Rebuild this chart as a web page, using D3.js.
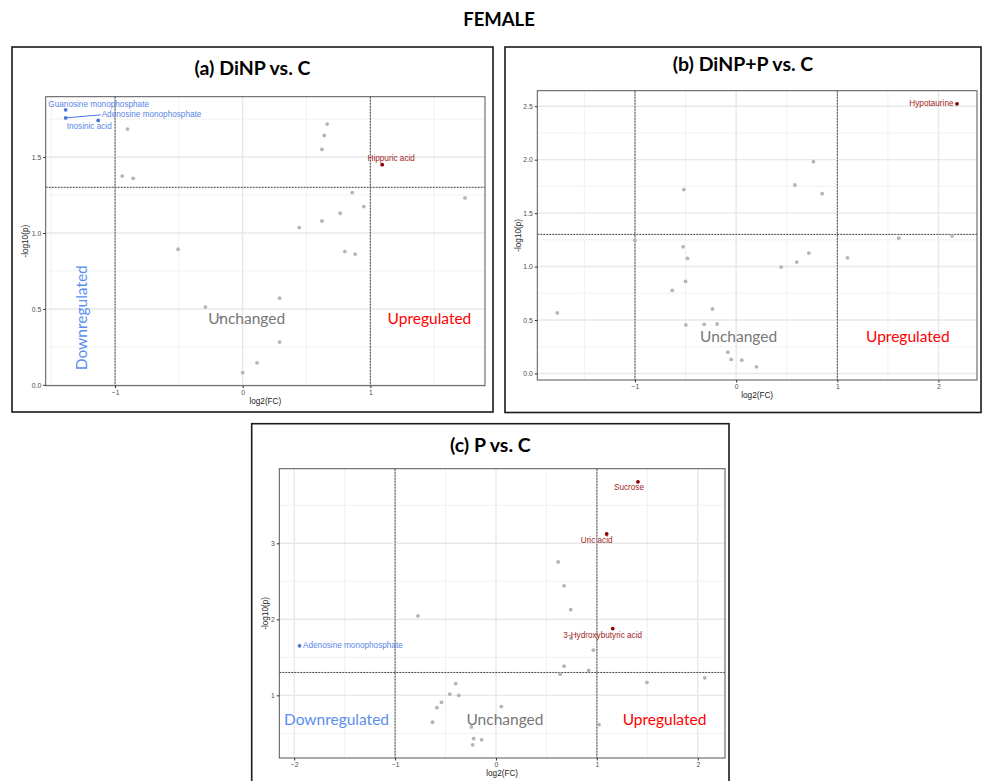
<!DOCTYPE html>
<html>
<head>
<meta charset="utf-8">
<script src="https://cdn.jsdelivr.net/npm/d3@7"></script>
<style>
  body { margin: 0; background: #fff; }
  svg { display: block; }
</style>
</head>
<body>
<svg id="chart" width="982" height="781"></svg>
<script>
// ---------- data: log2 fold change and -log10(p) per metabolite ----------
// (a) DiNP vs. C
const dinpFC    = [-1.387, -1.387, -1.132, 1.093, -0.902, -0.944, -0.858, -0.506, -0.292, -0.172, 0.289, 0.289, 0.112, 0.000, 0.443, 0.621, 0.764, 0.858, 0.949, 0.800, 0.881, 0.621, 0.639, 0.662, 1.742];
const dinpLogP  = [1.811, 1.758, 1.741, 1.450, 1.684, 1.375, 1.360, 0.893, 0.512, 0.444, 0.571, 0.282, 0.145, 0.081, 1.036, 1.079, 1.130, 1.266, 1.174, 0.878, 0.861, 1.550, 1.642, 1.717, 1.231];
const dinpNames = ["Guanosine monophosphate", "Adenosine monophosphate", "Inosinic acid", "Hippuric acid"];

// (b) DiNP+P vs. C
const dinpPFC    = [2.183, 0.764, 0.580, 0.850, -0.517, -1.001, -0.524, -0.481, -0.500, -0.632, -1.768, -0.234, -0.497, -0.316, -0.188, -0.082, -0.049, 0.056, 0.201, 0.445, 0.599, 0.718, 1.100, 1.607, 2.134];
const dinpPLogP  = [2.522, 1.981, 1.763, 1.682, 1.720, 1.247, 1.185, 1.076, 0.861, 0.777, 0.566, 0.603, 0.454, 0.460, 0.463, 0.199, 0.131, 0.124, 0.062, 0.995, 1.042, 1.126, 1.082, 1.266, 1.287];
const dinpPNames = ["Hypotaurine"];

// (c) P vs. C
const pFC    = [1.407, 1.097, 1.157, -1.947, 0.616, 0.675, 0.741, 0.745, 0.965, 0.675, 0.636, 0.919, 1.496, 2.069, 1.021, -0.774, -0.399, -0.458, -0.369, -0.540, -0.586, -0.629, 0.053, -0.244, -0.221, -0.142, -0.231];
const pLogP  = [3.808, 3.122, 1.878, 1.651, 2.755, 2.441, 2.127, 1.751, 1.594, 1.384, 1.279, 1.328, 1.170, 1.231, 0.616, 2.044, 1.153, 1.017, 1.000, 0.908, 0.838, 0.646, 0.852, 0.585, 0.432, 0.415, 0.349];
const pNames = ["Sucrose", "Uric acid", "3-Hydroxybutyric acid", "Adenosine monophosphate"];

// tick labels
const dinpXTicks  = [-1, 0, 1];
const dinpYTicks  = [0, 0.5, 1, 1.5];
const dinpPXTicks = [-1, 0, 1, 2];
const dinpPYTicks = [0, 0.5, 1, 1.5, 2, 2.5];
const pXTicks     = [-2, -1, 0, 1, 2];
const pYTicks     = [1, 2, 3];

// thresholds: |log2FC| = 1 and p = 0.05
const fcCut = 1;
const pCut = -Math.log10(0.05);

// ---------- styling ----------
const COL = {
  down: "#4677dc", downText: "#5a86e6",
  up: "#8b0000", upText: "#a11d1d",
  ns: "#b5b5b5",
  regionDown: "#5a8eef", regionNs: "#777777", regionUp: "#ff0000"
};
const titleFont = "Lato, 'Open Sans', sans-serif";
const plotFont = "'Liberation Sans', Arial, sans-serif";

const svg = d3.select("#chart");

svg.append("text")
  .attr("x", 499).attr("y", 19)
  .attr("text-anchor", "middle").attr("dominant-baseline", "central")
  .style("font-family", titleFont).style("font-weight", 700).style("font-size", "18.5px")
  .text("FEMALE");

// ---------- panel definitions ----------
const panels = [
  {
    title: "(a) DiNP vs. C", fc: dinpFC, logp: dinpLogP, names: dinpNames,
    xTicks: dinpXTicks, yTicks: dinpYTicks, yFmt: d3.format(".1f"),
    box: [12, 47, 493, 412], plot: [45.7, 96.7, 485, 385.7], titleY: 67.5,
    xLabY: 401, yLabX: 25.7,
    labelPos: {
      "Guanosine monophosphate": { dx: 33, dy: -5.7, anchor: "middle" },
      "Adenosine monophosphate": { dx: 36, dy: -3, anchor: "start", segment: true },
      "Inosinic acid": { dx: -9, dy: 6, anchor: "middle" },
      "Hippuric acid": { dx: 9, dy: -6, anchor: "middle" }
    },
    regions: [
      { text: "Downregulated", x: -1.263, y: 0.442, color: COL.regionDown, rotate: true },
      { text: "Unchanged", x: 0.031, y: 0.442, color: COL.regionNs },
      { text: "Upregulated", x: 1.463, y: 0.442, color: COL.regionUp }
    ]
  },
  {
    title: "(b) DiNP+P vs. C", fc: dinpPFC, logp: dinpPLogP, names: dinpPNames,
    xTicks: dinpPXTicks, yTicks: dinpPYTicks, yFmt: d3.format(".1f"),
    box: [505, 47, 981, 412.5], plot: [537.3, 90.7, 977, 380], titleY: 63.3,
    xLabY: 395, yLabX: 518.7,
    labelPos: {
      "Hypotaurine": { dx: -3.5, dy: 0, anchor: "end" }
    },
    regions: [
      { text: "Unchanged", x: 0.024, y: 0.348, color: COL.regionNs },
      { text: "Upregulated", x: 1.697, y: 0.348, color: COL.regionUp }
    ]
  },
  {
    title: "(c) P vs. C", fc: pFC, logp: pLogP, names: pNames,
    xTicks: pXTicks, yTicks: pYTicks, yFmt: d3.format("d"),
    box: [251.7, 423.7, 729, 800], plot: [279.3, 468.7, 725, 758], titleY: 444.5,
    xLabY: 773, yLabX: 265,
    labelPos: {
      "Sucrose": { dx: -9, dy: 6, anchor: "middle" },
      "Uric acid": { dx: -10, dy: 6, anchor: "middle" },
      "3-Hydroxybutyric acid": { dx: -10, dy: 6.5, anchor: "middle" },
      "Adenosine monophosphate": { dx: 3.5, dy: 0, anchor: "start" }
    },
    regions: [
      { text: "Downregulated", x: -1.581, y: 0.693, color: COL.regionDown },
      { text: "Unchanged", x: 0.089, y: 0.693, color: COL.regionNs },
      { text: "Upregulated", x: 1.670, y: 0.693, color: COL.regionUp }
    ]
  }
];

// domain padded by 5% of the data range on each side
function padded(values) {
  const [lo, hi] = d3.extent(values);
  const pad = (hi - lo) * 0.05;
  return [lo - pad, hi + pad];
}

// minor gridlines sit halfway between major breaks
function minorBreaks(major, domain) {
  const step = major[1] - major[0];
  const out = [];
  for (let v = major[0] - step / 2; v <= domain[1]; v += step) {
    if (v >= domain[0]) out.push(+v.toFixed(6));
  }
  return out;
}

function drawPanel(p) {
  const [bx0, by0, bx1, by1] = p.box;
  const [px0, py0, px1, py1] = p.plot;

  const g = svg.append("g");

  g.append("rect")
    .attr("x", bx0).attr("y", by0).attr("width", bx1 - bx0).attr("height", by1 - by0)
    .attr("fill", "#fff").attr("stroke", "#1a1a1a").attr("stroke-width", 1.6);

  g.append("text")
    .attr("x", (bx0 + bx1) / 2).attr("y", p.titleY)
    .attr("text-anchor", "middle").attr("dominant-baseline", "central")
    .style("font-family", titleFont).style("font-weight", 700).style("font-size", "19.5px")
    .text(p.title);

  const points = p.fc.map((fc, i) => ({
    fc, lp: p.logp[i], name: p.names[i] || null,
    cls: (p.logp[i] > pCut && fc > fcCut) ? "up" : (p.logp[i] > pCut && fc < -fcCut) ? "down" : "ns"
  }));

  const xDom = padded(p.fc), yDom = padded(p.logp);
  const x = d3.scaleLinear().domain(xDom).range([px0, px1]);
  const y = d3.scaleLinear().domain(yDom).range([py1, py0]);

  // grid
  const grid = g.append("g");
  grid.selectAll(".vminor").data(minorBreaks(p.xTicks, xDom)).join("line")
    .attr("x1", d => x(d)).attr("x2", d => x(d)).attr("y1", py0).attr("y2", py1)
    .attr("stroke", "#efefef").attr("stroke-width", 0.9);
  grid.selectAll(".hminor").data(minorBreaks(p.yTicks, yDom)).join("line")
    .attr("y1", d => y(d)).attr("y2", d => y(d)).attr("x1", px0).attr("x2", px1)
    .attr("stroke", "#efefef").attr("stroke-width", 0.9);
  grid.selectAll(".vmajor").data(p.xTicks).join("line")
    .attr("x1", d => x(d)).attr("x2", d => x(d)).attr("y1", py0).attr("y2", py1)
    .attr("stroke", "#e8e8e8").attr("stroke-width", 1.4);
  grid.selectAll(".hmajor").data(p.yTicks).join("line")
    .attr("y1", d => y(d)).attr("y2", d => y(d)).attr("x1", px0).attr("x2", px1)
    .attr("stroke", "#e8e8e8").attr("stroke-width", 1.4);

  // threshold lines
  const thr = g.append("g").attr("stroke", "#444").attr("stroke-width", 1).attr("stroke-dasharray", "2,1");
  [-fcCut, fcCut].forEach(v => {
    thr.append("line").attr("x1", x(v)).attr("x2", x(v)).attr("y1", py0).attr("y2", py1);
  });
  thr.append("line").attr("x1", px0).attr("x2", px1).attr("y1", y(pCut)).attr("y2", y(pCut));

  // points: unchanged first, then regulated
  const order = { ns: 0, down: 1, up: 2 };
  g.append("g").selectAll("circle")
    .data(points.slice().sort((a, b) => order[a.cls] - order[b.cls]))
    .join("circle")
    .attr("cx", d => x(d.fc)).attr("cy", d => y(d.lp)).attr("r", 1.9)
    .attr("fill", d => COL[d.cls]);

  // region annotations
  p.regions.forEach(r => {
    const t = g.append("text")
      .attr("text-anchor", "middle").attr("dominant-baseline", "central")
      .style("font-family", titleFont).style("font-size", "15.5px")
      .attr("fill", r.color).text(r.text);
    if (r.rotate) t.attr("transform", `translate(${x(r.x)},${y(r.y)}) rotate(-90)`);
    else t.attr("x", x(r.x)).attr("y", y(r.y));
  });

  // metabolite labels
  points.filter(d => d.name).forEach(d => {
    const pos = p.labelPos[d.name];
    const cx = x(d.fc), cy = y(d.lp);
    const color = d.cls === "down" ? COL.downText : COL.upText;
    if (pos.segment) {
      g.append("line").attr("x1", cx).attr("y1", cy).attr("x2", cx + pos.dx - 1).attr("y2", cy + pos.dy)
        .attr("stroke", COL.down).attr("stroke-width", 1);
    }
    g.append("text")
      .attr("x", cx + pos.dx).attr("y", cy + pos.dy)
      .attr("text-anchor", pos.anchor).attr("dominant-baseline", "central")
      .style("font-family", plotFont).style("font-size", "8.2px")
      .attr("fill", color).text(d.name);
  });

  // panel border
  g.append("rect").attr("x", px0).attr("y", py0).attr("width", px1 - px0).attr("height", py1 - py0)
    .attr("fill", "none").attr("stroke", "#555").attr("stroke-width", 1);

  // axes
  const xAxis = g.append("g").attr("transform", `translate(0,${py1})`)
    .call(d3.axisBottom(x).tickValues(p.xTicks).tickFormat(d3.format("d")).tickSize(2.5).tickSizeOuter(0).tickPadding(2));
  const yAxis = g.append("g").attr("transform", `translate(${px0},0)`)
    .call(d3.axisLeft(y).tickValues(p.yTicks).tickFormat(p.yFmt).tickSize(2.5).tickSizeOuter(0).tickPadding(2));
  [xAxis, yAxis].forEach(a => {
    a.select(".domain").remove();
    a.selectAll(".tick line").attr("stroke", "#333");
    a.selectAll(".tick text").attr("fill", "#4d4d4d")
      .style("font-family", plotFont).style("font-size", "6.8px");
  });

  g.append("text")
    .attr("x", (px0 + px1) / 2).attr("y", p.xLabY)
    .attr("text-anchor", "middle").attr("dominant-baseline", "central")
    .style("font-family", plotFont).style("font-size", "8.2px").attr("fill", "#222")
    .text("log2(FC)");
  g.append("text")
    .attr("transform", `translate(${p.yLabX},${(py0 + py1) / 2}) rotate(-90)`)
    .attr("text-anchor", "middle").attr("dominant-baseline", "central")
    .style("font-family", plotFont).style("font-size", "8.2px").attr("fill", "#222")
    .text("-log10(p)");
}

panels.forEach(drawPanel);
</script>
</body>
</html>
